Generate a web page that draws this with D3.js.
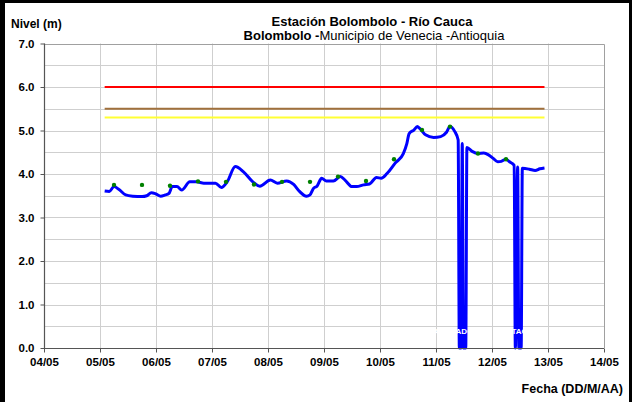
<!DOCTYPE html>
<html>
<head>
<meta charset="utf-8">
<script src="https://cdn.jsdelivr.net/npm/d3@7"></script>
<style>
  html, body { margin: 0; padding: 0; background: #fff; }
  svg { display: block; font-family: "Liberation Sans", Arial, sans-serif; }
</style>
</head>
<body>
<svg id="chart" width="632" height="402"></svg>
<script>
// ---- DATA ----
const levelDates = [
  "2011-05-05 02:00","2011-05-05 04:00","2011-05-05 06:00","2011-05-05 08:00","2011-05-05 11:00",
  "2011-05-05 14:00","2011-05-05 18:00","2011-05-05 20:00","2011-05-05 22:00","2011-05-06 00:00",
  "2011-05-06 02:00","2011-05-06 04:00","2011-05-06 05:30","2011-05-06 07:00","2011-05-06 09:00",
  "2011-05-06 11:00","2011-05-06 14:30","2011-05-06 17:30","2011-05-06 20:30","2011-05-07 01:30",
  "2011-05-07 04:00","2011-05-07 06:30","2011-05-07 10:00","2011-05-07 13:30","2011-05-07 17:30",
  "2011-05-07 20:30","2011-05-08 01:00","2011-05-08 04:00","2011-05-08 08:00","2011-05-08 11:00",
  "2011-05-08 13:30","2011-05-08 16:30","2011-05-08 18:00","2011-05-08 19:30","2011-05-08 21:00",
  "2011-05-08 23:00","2011-05-09 01:00","2011-05-09 04:00","2011-05-09 07:00","2011-05-09 09:00",
  "2011-05-09 12:00","2011-05-09 14:00","2011-05-09 17:00","2011-05-09 19:30","2011-05-09 22:30",
  "2011-05-10 00:30","2011-05-10 03:00","2011-05-10 06:30","2011-05-10 10:00","2011-05-10 11:30",
  "2011-05-10 12:30","2011-05-10 14:30","2011-05-10 16:00","2011-05-10 17:00","2011-05-10 19:30",
  "2011-05-10 23:00","2011-05-11 02:00","2011-05-11 04:30","2011-05-11 06:00","2011-05-11 08:00",
  "2011-05-11 09:30","2011-05-11 10:00","2011-05-11 10:45","2011-05-11 11:15","2011-05-11 11:45",
  "2011-05-11 12:45","2011-05-11 13:15","2011-05-11 15:30","2011-05-11 18:00","2011-05-11 20:30",
  "2011-05-11 22:30","2011-05-12 00:30","2011-05-12 02:30","2011-05-12 04:00","2011-05-12 06:00",
  "2011-05-12 07:30","2011-05-12 09:30","2011-05-12 10:00","2011-05-12 11:00","2011-05-12 11:30",
  "2011-05-12 12:30","2011-05-12 13:00","2011-05-12 16:00","2011-05-12 18:30","2011-05-12 20:30",
  "2011-05-12 22:30"
];
const levelValues = [
  3.61,3.60,3.71,3.65,3.52,
  3.49,3.48,3.50,3.57,3.54,
  3.49,3.52,3.55,3.71,3.71,
  3.63,3.82,3.82,3.79,3.79,
  3.69,3.82,4.17,4.05,3.82,
  3.72,3.86,3.79,3.84,3.76,
  3.60,3.49,3.52,3.67,3.72,
  3.90,3.84,3.84,3.94,3.86,
  3.71,3.71,3.75,3.77,3.92,
  3.90,4.01,4.25,4.47,4.70,
  4.93,5.01,5.09,5.05,4.90,
  4.84,4.86,4.96,5.09,4.98,
  4.78,0,0,4.70,0,
  0,4.61,4.52,4.47,4.48,
  4.44,4.36,4.28,4.29,4.34,
  4.28,4.20,0,4.16,0,
  0,4.13,4.11,4.08,4.12,
  4.14
];
const obsDates = [
  "2011-05-05 06:00","2011-05-05 18:00","2011-05-06 06:00","2011-05-06 18:00","2011-05-07 06:00",
  "2011-05-07 18:00","2011-05-08 06:00","2011-05-08 18:00","2011-05-09 06:00","2011-05-09 18:00",
  "2011-05-10 06:00","2011-05-10 18:00","2011-05-11 06:00","2011-05-11 18:00","2011-05-12 06:00"
];
const obsValues = [3.75,3.75,3.73,3.83,3.82,3.76,3.82,3.82,3.94,3.84,4.34,5.01,5.09,4.47,4.34];
const thresholdValues = [6.0, 5.5, 5.3];
const yTickValues = [0,1,2,3,4,5,6,7];
const xTickDates = ["2011-05-04","2011-05-05","2011-05-06","2011-05-07","2011-05-08","2011-05-09",
  "2011-05-10","2011-05-11","2011-05-12","2011-05-13","2011-05-14"];
const gapLabels = [
  {date: "2011-05-11 09:00", text: "APAGADO E"},
  {date: "2011-05-12 12:30", text: "ESTACIÓN"}
];
const titleLine1 = "Estación Bolombolo - Río Cauca";
const titleLine2Bold = "Bolombolo -";
const titleLine2Normal = "Municipio de Venecia -Antioquia";
const yTitle = "Nivel (m)";
const xTitle = "Fecha (DD/M/AA)";

// ---- CHART ----
const parseDT = d3.timeParse("%Y-%m-%d %H:%M");
const parseD = d3.timeParse("%Y-%m-%d");
const fmt = d3.timeFormat("%d/%m");

const svg = d3.select("#chart");
const W = 632, H = 402;
const m = {left: 44, right: 604, top: 43.5, bottom: 348};

svg.append("rect").attr("width", W).attr("height", H).attr("fill", "#fff");

const x = d3.scaleTime()
  .domain([parseD(xTickDates[0]), parseD(xTickDates[xTickDates.length - 1])])
  .range([m.left, m.right]);
const y = d3.scaleLinear().domain([0, 7]).range([m.bottom, m.top]);

// gridlines
const grid = svg.append("g");
const halfSteps = d3.range(0.5, 7, 0.5);
grid.selectAll("line.h").data(halfSteps).join("line")
  .attr("x1", m.left).attr("x2", m.right)
  .attr("y1", d => Math.round(y(d)) + 0.5).attr("y2", d => Math.round(y(d)) + 0.5)
  .attr("stroke", "#cfcfcf").attr("stroke-width", 1);
grid.selectAll("line.v").data(xTickDates.slice(1, -1)).join("line")
  .attr("x1", d => Math.round(x(parseD(d))) + 0.5).attr("x2", d => Math.round(x(parseD(d))) + 0.5)
  .attr("y1", m.top).attr("y2", m.bottom)
  .attr("stroke", "#cfcfcf").attr("stroke-width", 1);

// plot border (top/right)
svg.append("path")
  .attr("d", `M${m.left},${Math.round(m.top)+0.5}H${m.right+0.5}V${m.bottom}`)
  .attr("fill", "none").attr("stroke", "#a0a0a0").attr("stroke-width", 1);

// thresholds
const tStart = parseDT(levelDates[0]), tEnd = parseDT(levelDates[levelDates.length - 1]);
const thrColors = ["#ff0000", "#a0703c", "#ffff33"];
svg.append("g").selectAll("line").data(thresholdValues).join("line")
  .attr("x1", x(tStart)).attr("x2", x(tEnd))
  .attr("y1", d => y(d)).attr("y2", d => y(d))
  .attr("stroke", (d, i) => thrColors[i]).attr("stroke-width", 2);

// level line
const levelData = levelDates.map((d, i) => ({t: parseDT(d), v: levelValues[i]}));
const line = d3.line().x(d => x(d.t)).y(d => y(d.v)).curve(d3.curveMonotoneX);
svg.append("path").datum(levelData)
  .attr("d", line)
  .attr("fill", "none").attr("stroke", "#0000ff").attr("stroke-width", 3)
  .attr("stroke-linejoin", "round");

// gap labels (white text)
svg.append("g").selectAll("text").data(gapLabels).join("text")
  .attr("x", d => x(parseDT(d.date))).attr("y", 334)
  .attr("text-anchor", "middle").attr("font-size", 8).attr("font-weight", "bold")
  .attr("fill", "#fff").text(d => d.text);

// observations
const obsData = obsDates.map((d, i) => ({t: parseDT(d), v: obsValues[i]}));
svg.append("g").selectAll("circle").data(obsData).join("circle")
  .attr("cx", d => x(d.t)).attr("cy", d => y(d.v)).attr("r", 2.2)
  .attr("fill", "#008000");

// axes
const yAxis = d3.axisLeft(y).tickValues(yTickValues).tickFormat(d3.format(".1f")).tickSize(4).tickPadding(6);
const gy = svg.append("g").attr("transform", `translate(${m.left + 0.5},0)`).call(yAxis);
const xAxis = d3.axisBottom(x).tickValues(xTickDates.map(parseD)).tickFormat(fmt).tickSize(4).tickPadding(5);
const gx = svg.append("g").attr("transform", `translate(0,${m.bottom + 0.5})`).call(xAxis);
[gy, gx].forEach(g => {
  g.select(".domain").attr("stroke", "#555").attr("stroke-width", 1.2);
  g.selectAll(".tick line").attr("stroke", "#555");
  g.selectAll("text").attr("font-family", "'Liberation Sans', Arial, sans-serif")
    .attr("font-size", 11.5).attr("font-weight", "bold").attr("fill", "#000");
});
gy.select(".domain").attr("d", `M0,${m.top}V${m.bottom}`);
gx.select(".domain").attr("d", `M${m.left},0H${m.right}`);

// titles
svg.append("text").attr("x", 372).attr("y", 26).attr("text-anchor", "middle")
  .attr("font-size", 13).attr("font-weight", "bold").text(titleLine1);
const t2 = svg.append("text").attr("x", 374).attr("y", 39.5).attr("text-anchor", "middle").attr("font-size", 13);
t2.append("tspan").attr("font-weight", "bold").text(titleLine2Bold);
t2.append("tspan").text(titleLine2Normal);
svg.append("text").attr("x", 11).attr("y", 28).attr("font-size", 12).attr("font-weight", "bold").text(yTitle);
svg.append("text").attr("x", 623).attr("y", 393).attr("text-anchor", "end")
  .attr("font-size", 12.5).attr("font-weight", "bold").text(xTitle);

// outer black frame
svg.append("rect").attr("x", 0).attr("y", 0).attr("width", 5).attr("height", H).attr("fill", "#000");
svg.append("rect").attr("x", 0).attr("y", 0).attr("width", W).attr("height", 3).attr("fill", "#000");
svg.append("rect").attr("x", 629).attr("y", 0).attr("width", 3).attr("height", H).attr("fill", "#000");
</script>
</body>
</html>
